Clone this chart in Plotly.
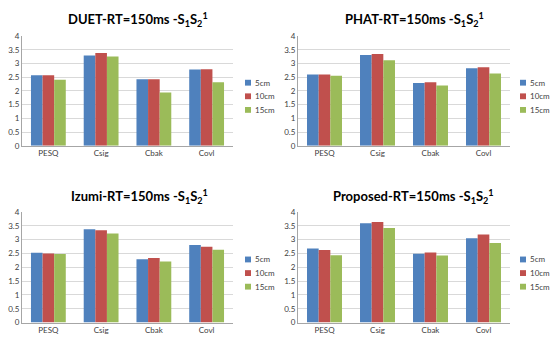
import plotly.graph_objects as go

categories = ["PESQ", "Csig", "Cbak", "Covl"]
series_names = ["5cm", "10cm", "15cm"]
colors = ["#4F81BD", "#C0504D", "#9BBB59"]

duet_5 = [2.57, 3.29, 2.43, 2.78]
duet_10 = [2.57, 3.38, 2.43, 2.79]
duet_15 = [2.41, 3.26, 1.94, 2.32]

phat_5 = [2.60, 3.31, 2.29, 2.83]
phat_10 = [2.60, 3.35, 2.32, 2.86]
phat_15 = [2.55, 3.12, 2.20, 2.64]

izumi_5 = [2.52, 3.37, 2.29, 2.80]
izumi_10 = [2.50, 3.34, 2.33, 2.74]
izumi_15 = [2.48, 3.22, 2.21, 2.63]

prop_5 = [2.68, 3.59, 2.49, 3.05]
prop_10 = [2.62, 3.63, 2.53, 3.18]
prop_15 = [2.43, 3.42, 2.42, 2.88]

titles = [
    "DUET-RT=150ms -S<sub>1</sub>S<sub>2</sub><sup>1</sup>",
    "PHAT-RT=150ms -S<sub>1</sub>S<sub>2</sub><sup>1</sup>",
    "Izumi-RT=150ms -S<sub>1</sub>S<sub>2</sub><sup>1</sup>",
    "Proposed-RT=150ms -S<sub>1</sub>S<sub>2</sub><sup>1</sup>",
]
panels = [
    [duet_5, duet_10, duet_15],
    [phat_5, phat_10, phat_15],
    [izumi_5, izumi_10, izumi_15],
    [prop_5, prop_10, prop_15],
]
yticks = [0, 0.5, 1, 1.5, 2, 2.5, 3, 3.5, 4]

W, H = 550, 348
# pixel geometry: (left, right, top, bottom)
geom = [(22, 233, 32, 145), (298, 510, 32, 145), (22, 233, 213, 327), (298, 510, 213, 327)]
title_pos = [(138, 15), (414, 15), (139, 197), (413, 197)]
legend_pos = [(245, 80), (520, 80), (245, 262), (520, 262)]
legend_step = 14

FONT = "Lato, Open Sans, sans-serif"
fig = go.Figure()
layout = dict(
    width=W, height=H, margin=dict(l=0, r=0, t=0, b=0),
    paper_bgcolor="white", plot_bgcolor="white",
    barmode="group", bargap=0.34, bargroupgap=0,
    font=dict(family=FONT, size=8, color="#404040"),
    showlegend=False,
    annotations=[], shapes=[],
)
for i, (vals, title) in enumerate(zip(panels, titles)):
    n = "" if i == 0 else str(i + 1)
    for s, (name, col) in enumerate(zip(series_names, colors)):
        fig.add_trace(go.Bar(
            x=categories, y=vals[s], name=name, marker_color=col,
            marker_line_width=0,
            xaxis=f"x{n}", yaxis=f"y{n}", offsetgroup=str(s),
        ))
    l, r, t, b = geom[i]
    layout[f"xaxis{n}"] = dict(
        domain=[l / W, r / W], anchor=f"y{n}",
        showline=True, linecolor="#A6A6A6", linewidth=1,
        ticks="", tickfont=dict(size=8, color="#404040"),
        showgrid=False, fixedrange=True,
    )
    layout[f"yaxis{n}"] = dict(
        domain=[1 - b / H, 1 - t / H], anchor=f"x{n}",
        range=[0, 4], tickvals=yticks, ticktext=[str(v) for v in yticks],
        showline=True, linecolor="#A6A6A6", linewidth=1,
        showgrid=True, gridcolor="#D9D9D9", gridwidth=1,
        zeroline=False, ticks="", ticklen=0,
        tickfont=dict(size=8, color="#404040"), fixedrange=True,
    )
    lx, ly = legend_pos[i]
    for s, (name, col) in enumerate(zip(series_names, colors)):
        cy = ly + s * legend_step
        layout["shapes"].append(dict(
            type="rect", xref="paper", yref="paper",
            x0=lx / W, x1=(lx + 6) / W, y0=1 - (cy + 3) / H, y1=1 - (cy - 3) / H,
            fillcolor=col, line=dict(width=0),
        ))
        layout["annotations"].append(dict(
            text=name, x=(lx + 8) / W, y=1 - cy / H, xref="paper", yref="paper",
            xanchor="left", yanchor="middle", showarrow=False,
            font=dict(family=FONT, size=8, color="#404040"),
        ))
    tx, ty = title_pos[i]
    layout["annotations"].append(dict(
        text=f"<b>{title}</b>", x=tx / W, y=1 - ty / H, xref="paper", yref="paper",
        xanchor="center", yanchor="middle", showarrow=False,
        font=dict(family=FONT, size=13, color="#000000"),
    ))

fig.update_layout(**layout)
fig.write_html(
    "out.html",
    config={"displayModeBar": False},
    post_script="document.body.style.margin='0';document.body.style.overflow='hidden';",
)
